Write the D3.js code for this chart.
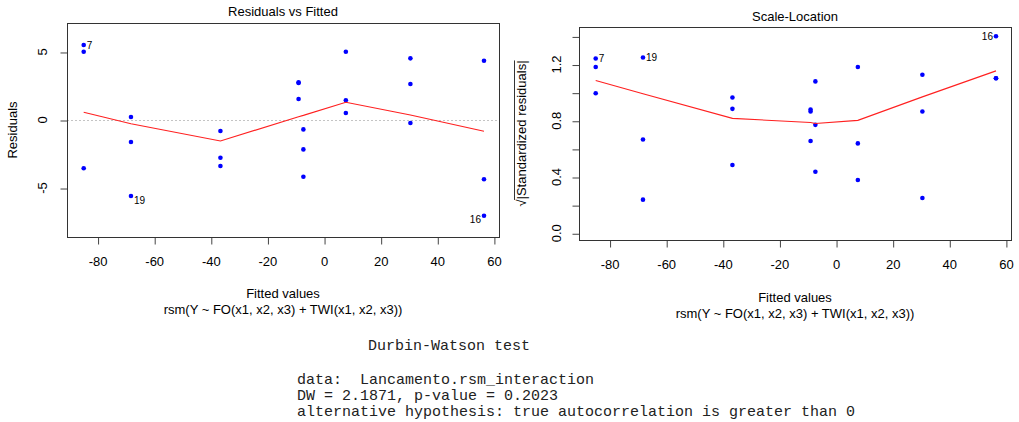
<!DOCTYPE html>
<html><head><meta charset="utf-8">
<script src="https://cdn.jsdelivr.net/npm/d3@7"></script>
<style>body{margin:0;background:#fff}svg{display:block}</style>
</head><body><svg id="c" width="1019" height="422"></svg>
<script>
// ---- data ----
const fitted = [-84.9,-84.9,-84.9, -68.2,-68.2,-68.2, -36.6,-36.6,-36.6, -9.0,-9.0,-9.0, -7.3,-7.3,-7.3, 7.7,7.7,7.7, 30.5,30.5,30.5, 56.5,56.5,56.5];
const residuals = [5.51,5.02,-3.55, 0.22,-1.62,-5.59, -0.81,-2.77,-3.38, 2.77,2.72,1.54, -0.69,-2.16,-4.17, 5.02,1.45,0.51, 4.53,2.65,-0.22, 4.36,-4.36,-7.04];
const sqrtStdResid = [1.243,1.183,0.996, 0.239,0.667,1.250, 0.485,0.885,0.966, 0.880,0.866,0.656, 0.4375,0.771,1.080, 1.183,0.639,0.379, 1.127,0.866,0.251, 1.103,1.103,1.401];
const pointLabels = ["7","","", "","","19", "","","", "","","", "","","", "","","", "","","", "","","16"];
const smoothX = [-84.9,-68.2,-36.6,-9.0,-7.3,7.7,30.5,56.5];
const residSmooth = [0.57,-0.27,-1.54,0.24,0.34,1.30,0.37,-0.83];
const scaleSmooth = [1.087,0.992,0.817,0.788,0.781,0.803,0.970,1.155];
const xTicks = [-80,-60,-40,-20,0,20,40,60];
const residTicks = [-5,0,5];
const scaleTicks = [0,0.2,0.4,0.6,0.8,1.0,1.2,1.4];
const scaleTickLabels = ["0.0","","0.4","","0.8","","1.2",""];
const xDomain = [-90.8,61.8];
const residDomain = [-8.6,7.13];
const scaleDomain = [-0.048,1.467];
const xTitle = "Fitted values";
const xSub = "rsm(Y ~ FO(x1, x2, x3) + TWI(x1, x2, x3))";
const dwTitle = "Durbin-Watson test";
const dwLines = ["data:  Lancamento.rsm_interaction","DW = 2.1871, p-value = 0.2023","alternative hypothesis: true autocorrelation is greater than 0"];

const svg = d3.select("#c");
const FONT = "'Liberation Sans', Arial, sans-serif";
const MONO = "'Liberation Mono', 'DejaVu Sans Mono', monospace";

function panel(o){
  const g = svg.append("g");
  const x = d3.scaleLinear().domain(xDomain).range([o.x0,o.x1]);
  const y = d3.scaleLinear().domain(o.yDomain).range([o.y1,o.y0]);
  if (o.zeroLine) {
    g.append("line").attr("x1",o.x0).attr("x2",o.x1)
      .attr("y1",Math.round(y(0))+0.5).attr("y2",Math.round(y(0))+0.5)
      .attr("stroke","#c4c4c4").attr("stroke-width",1).attr("stroke-dasharray","2,2");
  }
  const xa = g.append("g").attr("transform",`translate(0,${o.y1+0.5})`)
    .call(d3.axisBottom(x).tickValues(xTicks).tickSize(7).tickPadding(o.xTickPad).tickFormat(d3.format("d")));
  xa.select(".domain").remove();
  xa.selectAll("line").attr("stroke","#444").attr("transform","translate(0.5,0)");
  xa.selectAll("text").attr("font-family",FONT).attr("font-size",13).attr("fill","#000").text(d=>String(d));
  const ya = g.append("g").attr("transform",`translate(${o.x0+0.5},0)`)
    .call(d3.axisLeft(y).tickValues(o.yTicks).tickSize(7).tickFormat(""));
  ya.select(".domain").remove();
  ya.selectAll("line").attr("stroke","#444").attr("transform","translate(0,0.5)");
  o.yTicks.forEach((t,i)=>{
    const lab = o.yLabels[i];
    if(!lab) return;
    g.append("text").attr("transform",`translate(${o.yLabX},${y(t)}) rotate(-90)`)
      .attr("text-anchor","middle").attr("font-family",FONT).attr("font-size",13).attr("fill","#000").text(lab);
  });
  g.append("rect").attr("x",o.x0+0.5).attr("y",o.y0+0.5).attr("width",o.x1-o.x0).attr("height",o.y1-o.y0)
    .attr("fill","none").attr("stroke","#333").attr("stroke-width",1);
  g.selectAll("circle.p").data(fitted.map((f,i)=>({f, v:o.values[i]})))
    .enter().append("circle").attr("cx",d=>x(d.f)).attr("cy",d=>y(d.v)).attr("r",2.3).attr("fill","#0000ff");
  g.append("path").datum(smoothX.map((s,i)=>[s,o.smooth[i]]))
    .attr("d",d3.line().x(d=>x(d[0])).y(d=>y(d[1])))
    .attr("fill","none").attr("stroke","#ff2020").attr("stroke-width",1.1);
  const mid = (xDomain[0]+xDomain[1])/2;
  fitted.forEach((f,i)=>{
    const lab = pointLabels[i]; if(!lab) return;
    const right = f < mid;
    const dy = (o.shiftNeg && o.values[i] < 0) ? 4 : 0;
    g.append("text").attr("x", x(f) + (right?3:-3)).attr("y", y(o.values[i]) + 3.5 + dy)
      .attr("text-anchor", right?"start":"end").attr("font-family",FONT).attr("font-size",10).attr("fill","#000").text(lab);
  });
  g.append("text").attr("x",(o.x0+o.x1)/2).attr("y",o.titleY).attr("text-anchor","middle")
    .attr("font-family",FONT).attr("font-size",13).attr("fill","#000").text(o.title);
  g.append("text").attr("x",(o.x0+o.x1)/2).attr("y",o.xTitleY).attr("text-anchor","middle")
    .attr("font-family",FONT).attr("font-size",13).attr("fill","#000").text(xTitle);
  g.append("text").attr("x",(o.x0+o.x1)/2).attr("y",o.xTitleY+16).attr("text-anchor","middle")
    .attr("font-family",FONT).attr("font-size",13).attr("fill","#000").text(xSub);
  const yt = g.append("text").attr("transform",`translate(${o.yTitleX},${(o.y0+o.y1)/2}) rotate(-90)`)
    .attr("text-anchor","middle").attr("font-family",FONT).attr("font-size",13).attr("fill","#000");
  if (o.sqrt) {
    yt.append("tspan").text("√");
    yt.append("tspan").text("|Standardized residuals|");
    const node = yt.node();
    const total = node.getComputedTextLength();
    const rootW = node.getSubStringLength(0,1);
    const start = -total/2 + rootW - 0.5;
    g.append("line").attr("transform",`translate(${o.yTitleX},${(o.y0+o.y1)/2}) rotate(-90)`)
      .attr("x1",start).attr("x2",total/2).attr("y1",-11.5).attr("y2",-11.5)
      .attr("stroke","#000").attr("stroke-width",0.8);
  } else {
    yt.text(o.yTitle);
  }
}

panel({x0:67,x1:499,y0:23,y1:237,yDomain:residDomain,values:residuals,smooth:residSmooth,
  yTicks:residTicks,yLabels:residTicks.map(String),yLabX:46.5,zeroLine:true,xTickPad:12,
  title:"Residuals vs Fitted",titleY:16,xTitleY:298,yTitleX:17,yTitle:"Residuals",shiftNeg:true});
panel({x0:579,x1:1011,y0:27,y1:240,yDomain:scaleDomain,values:sqrtStdResid,smooth:scaleSmooth,
  yTicks:scaleTicks,yLabels:scaleTickLabels,yLabX:561,zeroLine:false,xTickPad:12,
  title:"Scale-Location",titleY:21,xTitleY:302,yTitleX:526,sqrt:true,shiftNeg:false});

// Durbin-Watson text output
svg.append("text").attr("x",368).attr("y",350).attr("font-family",MONO).attr("font-size",15).attr("fill","#222").text(dwTitle);
dwLines.forEach((t,i)=>{
  svg.append("text").attr("x",297).attr("y",384+i*16).attr("font-family",MONO).attr("font-size",15).attr("fill","#222")
    .style("white-space","pre").text(t);
});
</script></body></html>
